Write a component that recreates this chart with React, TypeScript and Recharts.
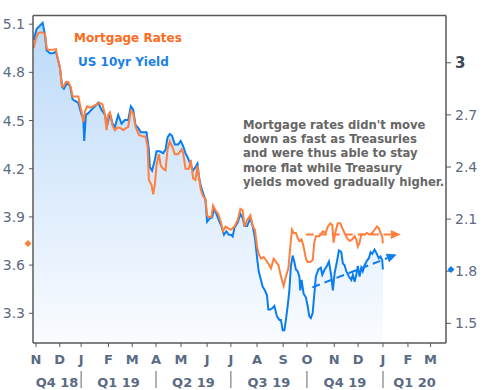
import React from 'react';
import {
  ComposedChart,
  Line,
  Area,
  XAxis,
  YAxis,
  ReferenceLine,
  ReferenceDot,
  Customized,
} from 'recharts';

// x = trading-day index counted from Nov 1 2018
const monthTickDays = [0, 20, 38, 61, 81, 101, 122, 144, 164, 186, 208, 228, 251, 271, 292, 313, 332];
const monthLabels = ['N', 'D', 'J', 'F', 'M', 'A', 'M', 'J', 'J', 'A', 'S', 'O', 'N', 'D', 'J', 'F', 'M'];
const quarterBoundaryDays = [38, 101, 164, 228, 292];
const quarterLabels = ['Q4 18', 'Q1 19', 'Q2 19', 'Q3 19', 'Q4 19', 'Q1 20'];
const xDomain = [-2.5, 345];

const mortgageTicks = [3.3, 3.6, 3.9, 4.2, 4.5, 4.8, 5.1];
const mortgageDomain = [3.115, 5.154];
const yieldTicks = [1.5, 1.8, 2.1, 2.4, 2.7, 3];
const yieldDomain = [1.387, 3.272];

const mortgageDays = [
  -2, 0, 1.9, 4.8, 7.6, 9, 10.3, 13.2, 16.8, 18.7, 20.2, 21.6, 23, 25.2, 27.1, 29.2, 30.8, 32.8, 35.6, 37,
  38.4, 39.8, 41.2, 43.1, 45.4, 48.2, 51, 53.8, 56, 58, 59.4, 60.8, 62.2, 64.4, 66.4, 68.3, 70.6, 73.4, 76.2, 77.6,
  79.8, 81.8, 83.8, 86.6, 90.2, 92.2, 93.9, 95, 97.2, 98.6, 100, 101.4, 103.4, 105, 107, 109, 110.7, 112.6, 114.5, 116.8,
  119.6, 122.4, 123.8, 125.8, 128.6, 130.3, 132.2, 134.2, 135.9, 137, 138.7, 140.6, 142.6, 144, 145.4, 147.6, 149, 151, 153.2, 155.5,
  157.4, 159.4, 161.6, 163.9, 167, 169.7, 172, 174, 175.4, 177.6, 180.4, 182.4, 184.3, 186, 187.4, 189.3, 191.6, 193.5, 195.5, 197.7,
  200, 202, 204, 206.1, 208.4, 210.3, 212.4, 214, 215.4, 216.8, 218.7, 220.2, 221.6, 223.5, 225.2, 227.1, 228.6, 230.8, 232.8, 234.2,
  235.5, 238.4, 241.4, 243.7, 245.6, 247.6, 249.3, 250.4, 252.1, 254, 256, 257.7, 259.7, 261.6, 263.9, 266.1, 268.1, 269.5, 270.8, 272.3,
  273.7, 276.5, 278.4, 280.7, 282.9, 284.9, 286.8, 288.5, 289.9, 291.3, 291.9,
];
const mortgageRates = [
  4.95, 5.01, 5.045, 5.05, 5.04, 4.95, 4.94, 4.94, 4.945, 4.87, 4.83, 4.72, 4.71, 4.74, 4.74, 4.71, 4.65, 4.65, 4.65, 4.6,
  4.555, 4.49, 4.555, 4.59, 4.58, 4.59, 4.6, 4.61, 4.6, 4.535, 4.44, 4.535, 4.55, 4.47, 4.44, 4.455, 4.455, 4.44, 4.455, 4.46,
  4.56, 4.545, 4.46, 4.41, 4.4, 4.4, 4.34, 4.13, 4.1, 4.04, 4.1, 4.22, 4.29, 4.22, 4.2, 4.19, 4.32, 4.37, 4.34, 4.29,
  4.29, 4.32, 4.3, 4.2, 4.2, 4.255, 4.14, 4.13, 4.22, 4.15, 4.07, 4.03, 4.01, 3.91, 3.9, 3.9, 3.97, 3.94, 3.92, 3.87,
  3.81, 3.84, 3.83, 3.82, 3.84, 3.88, 3.95, 3.94, 3.84, 3.88, 3.91, 3.84, 3.82, 3.715, 3.67, 3.64, 3.65, 3.63, 3.61, 3.58,
  3.64, 3.62, 3.6, 3.53, 3.47, 3.53, 3.58, 3.715, 3.82, 3.8, 3.8, 3.77, 3.75, 3.76, 3.715, 3.64, 3.62, 3.62, 3.63, 3.74,
  3.78, 3.78, 3.81, 3.8, 3.84, 3.86, 3.85, 3.74, 3.81, 3.86, 3.86, 3.83, 3.8, 3.77, 3.75, 3.76, 3.78, 3.76, 3.715, 3.74,
  3.79, 3.79, 3.8, 3.79, 3.8, 3.82, 3.84, 3.83, 3.8, 3.78, 3.735,
];

const yieldDays = [
  -2, 0.6, 2.8, 5.6, 7.6, 9, 11.8, 14.5, 16.8, 18.7, 20.2, 22.1, 23.5, 25.8, 28.6, 30.8, 32.8, 35.6, 38.4, 39.8,
  40.6, 42, 44, 46.8, 49.6, 52.4, 55.2, 58, 59.9, 62.2, 64.4, 66.4, 69.2, 72, 74.8, 77.6, 79.8, 81.8, 83.8, 86,
  88.2, 91, 93, 95, 95.8, 97.7, 100, 101.4, 104.2, 107, 109, 110.7, 112.6, 114.5, 116.8, 119.6, 121.8, 123.8, 125.8, 128,
  130.3, 132.2, 134.2, 135.9, 137, 138.7, 140.6, 142.6, 144, 146.2, 148.2, 149.8, 151.8, 153.8, 156, 158.2, 160.2, 162.2, 164.1, 165.5,
  167, 169.7, 172, 174, 175.4, 177.6, 180.4, 182.4, 184.3, 186, 187.4, 189.3, 190.8, 192.7, 194.4, 195.5, 197.2, 199.2, 200.6, 202.8,
  204.8, 206.1, 207.6, 209, 210.3, 211.8, 213.2, 214.5, 216, 217.4, 218.7, 220.2, 221.6, 222.4, 223.5, 225.2, 227.1, 228.6, 230, 231.3,
  232.8, 234.2, 235.5, 237.6, 239.7, 240.9, 242.9, 244.8, 246.5, 248.5, 249.8, 251.3, 253.2, 254.9, 256.9, 258.2, 259.7, 261.1, 263.3, 265.3,
  266.6, 268.1, 269.5, 270.8, 272.3, 273.7, 275, 276.5, 278.4, 280.1, 281.5, 282.9, 284.9, 286.8, 288.5, 289.9, 291.3, 291.9,
];
const yieldValues = [
  3.13, 3.195, 3.21, 3.23, 3.16, 3.07, 3.055, 3.055, 3.065, 3.015, 2.97, 2.86, 2.85, 2.88, 2.87, 2.79, 2.78, 2.77, 2.7, 2.68,
  2.55, 2.7, 2.71, 2.73, 2.75, 2.77, 2.73, 2.7, 2.64, 2.71, 2.65, 2.63, 2.7, 2.65, 2.67, 2.67, 2.75, 2.73, 2.64, 2.625,
  2.6, 2.6, 2.6, 2.5, 2.4, 2.38, 2.44, 2.49, 2.49, 2.48, 2.5, 2.57, 2.59, 2.58, 2.53, 2.53, 2.55, 2.52, 2.48, 2.45,
  2.41, 2.38, 2.4, 2.42, 2.35, 2.29, 2.25, 2.21, 2.085, 2.105, 2.11, 2.16, 2.13, 2.095, 2.06, 2.01, 2.03, 2.01, 2.01, 2.0,
  2.05, 2.08, 2.13, 2.105, 2.06, 2.06, 2.105, 2.06, 1.99, 1.88, 1.8, 1.75, 1.71, 1.69, 1.66, 1.58, 1.58, 1.59, 1.6, 1.54,
  1.52, 1.52, 1.46, 1.46, 1.52, 1.6, 1.69, 1.83, 1.89, 1.855, 1.81, 1.8, 1.77, 1.69, 1.75, 1.67, 1.65, 1.6, 1.54, 1.53,
  1.56, 1.67, 1.77, 1.81, 1.82, 1.78, 1.81, 1.83, 1.855, 1.77, 1.69, 1.79, 1.855, 1.92, 1.91, 1.845, 1.835, 1.8, 1.77, 1.75,
  1.78, 1.74, 1.78, 1.83, 1.77, 1.82, 1.8, 1.835, 1.86, 1.875, 1.91, 1.9, 1.925, 1.9, 1.875, 1.885, 1.865, 1.81,
];

// trend arrows: [day, value]
const mortgageArrow = [[227, 3.79], [307, 3.79]];
const yieldArrow = [[232.5, 1.707], [303.5, 1.897]];

const annotationLines = [
  "Mortgage rates didn't move",
  'down as fast as Treasuries',
  'and were thus able to stay',
  'more flat while Treasury',
  'yields moved gradually higher.',
];

const ORANGE = '#FF7F3C';
const BLUE = '#0A7DF0';
const AXIS = '#595959';
const TICK_TEXT = '#5b6b84';
const FONT = 'DejaVu Sans';

const mortgageData = mortgageDays.map((d, i) => ({ d, v: mortgageRates[i] }));
const yieldData = yieldDays.map((d, i) => ({ d, v: yieldValues[i] }));

const quarterEdges = [xDomain[0], ...quarterBoundaryDays, xDomain[1]];
const quarterMids = quarterLabels.map((_, i) => (quarterEdges[i] + quarterEdges[i + 1]) / 2);
const quarterTicks = [...quarterBoundaryDays, ...quarterMids].sort((a, b) => a - b);

const QuarterTick = (props: any) => {
  const { x, y, payload } = props;
  const v = payload.value;
  if (quarterBoundaryDays.indexOf(v) >= 0) {
    return <line x1={x} x2={x} y1={y + 6} y2={y + 23} stroke="#666" strokeWidth={1} />;
  }
  const qi = quarterMids.indexOf(v);
  return (
    <text x={x} y={y + 22} textAnchor="middle" fill={TICK_TEXT} fontSize={13} fontWeight="bold" fontFamily={FONT}>
      {quarterLabels[qi]}
    </text>
  );
};

const RightTick = (props: any) => {
  const { x, y, payload } = props;
  const v = payload.value;
  const big = v === 3;
  return (
    <text
      x={x}
      y={y}
      dy="0.36em"
      textAnchor="start"
      fill={big ? '#3d4654' : TICK_TEXT}
      fontSize={big ? 15 : 14}
      fontWeight={big ? 'bold' : 'normal'}
      fontFamily={FONT}
    >
      {big ? '3' : v.toFixed(1)}
    </text>
  );
};

const makeArrowShape = (color: string) => (props: any) => {
  const { x1, y1, x2, y2 } = props;
  if ([x1, y1, x2, y2].some((n) => n == null || isNaN(n))) return <g />;
  const ang = Math.atan2(y2 - y1, x2 - x1);
  const len = 10;
  const half = 4.5;
  const bx = x2 - len * Math.cos(ang);
  const by = y2 - len * Math.sin(ang);
  const px = -Math.sin(ang) * half;
  const py = Math.cos(ang) * half;
  return (
    <g>
      <line x1={x1} y1={y1} x2={bx} y2={by} stroke={color} strokeWidth={2} strokeDasharray="8 5" />
      <polygon points={`${x2},${y2} ${bx + px},${by + py} ${bx - px},${by - py}`} fill={color} />
    </g>
  );
};

const makeDiamond = (color: string, dx: number) => (props: any) => {
  const { cx, cy } = props;
  if (cx == null || cy == null) return <g />;
  const c = cx + dx;
  const r = 3.5;
  return <polygon points={`${c},${cy - r} ${c + r},${cy} ${c},${cy + r} ${c - r},${cy}`} fill={color} />;
};

const Texts = () => (
  <g>
    <text x={74} y={42} fill="#FF6A1C" fontSize={12} fontWeight="bold" fontFamily={FONT}>
      Mortgage Rates
    </text>
    <text x={78} y={66} fill="#1A7FE8" fontSize={12} fontWeight="bold" fontFamily={FONT}>
      US 10yr Yield
    </text>
    {annotationLines.map((t, i) => (
      <text key={i} x={243} y={129 + i * 14.2} fill="#666666" fontSize={11.6} fontWeight="bold" fontFamily={FONT}>
        {t}
      </text>
    ))}
  </g>
);

export default function App() {
  const lastMortgage = mortgageRates[mortgageRates.length - 1];
  const lastYield = yieldValues[yieldValues.length - 1];
  return (
    <div style={{ position: 'absolute', left: 0, top: 0, width: 484, height: 390, background: '#fff' }}>
      <ComposedChart width={484} height={390} margin={{ top: 15.5, right: 0, bottom: 0, left: 0 }}>
        <defs>
          <linearGradient id="yieldFill" x1="0" y1="0" x2="0" y2="1">
            <stop offset="0%" stopColor="#bcdaf9" />
            <stop offset="100%" stopColor="#fafcff" />
          </linearGradient>
        </defs>
        <XAxis
          xAxisId="m"
          type="number"
          dataKey="d"
          domain={xDomain}
          allowDataOverflow
          ticks={monthTickDays}
          interval={0}
          height={22}
          tickSize={4}
          tickMargin={8}
          stroke={AXIS}
          axisLine={{ stroke: AXIS, strokeWidth: 1.5 }}
          tickLine={{ stroke: AXIS }}
          tickFormatter={(v: number) => monthLabels[monthTickDays.indexOf(v)] ?? ''}
          tick={{ fill: TICK_TEXT, fontSize: 13, fontWeight: 'bold', fontFamily: FONT }}
        />
        <XAxis
          xAxisId="q"
          type="number"
          dataKey="d"
          domain={xDomain}
          allowDataOverflow
          ticks={quarterTicks}
          interval={0}
          height={25}
          tickSize={0}
          tickMargin={0}
          axisLine={false}
          tickLine={false}
          tick={<QuarterTick />}
        />
        <YAxis
          yAxisId="l"
          orientation="left"
          type="number"
          domain={mortgageDomain}
          allowDataOverflow
          ticks={mortgageTicks}
          interval={0}
          width={33}
          tickSize={4}
          tickMargin={4}
          axisLine={{ stroke: AXIS, strokeWidth: 1.5 }}
          tickLine={{ stroke: AXIS }}
          tickFormatter={(v: number) => v.toFixed(1)}
          tick={{ fill: TICK_TEXT, fontSize: 14, fontFamily: FONT }}
        />
        <YAxis
          yAxisId="r"
          orientation="right"
          type="number"
          domain={yieldDomain}
          allowDataOverflow
          ticks={yieldTicks}
          interval={0}
          width={38}
          tickSize={5}
          tickMargin={4}
          axisLine={{ stroke: AXIS, strokeWidth: 1.5 }}
          tickLine={{ stroke: AXIS }}
          tick={<RightTick />}
        />
        <ReferenceLine xAxisId="m" yAxisId="l" y={mortgageDomain[1]} stroke={AXIS} strokeWidth={1.5} ifOverflow="visible" />
        <Area
          xAxisId="m"
          yAxisId="r"
          data={yieldData}
          dataKey="v"
          type="linear"
          stroke="none"
          fill="url(#yieldFill)"
          fillOpacity={1}
          isAnimationActive={false}
        />
        <Line
          xAxisId="m"
          yAxisId="r"
          data={yieldData}
          dataKey="v"
          type="linear"
          stroke={BLUE}
          strokeWidth={2}
          dot={false}
          isAnimationActive={false}
        />
        <Line
          xAxisId="m"
          yAxisId="l"
          data={mortgageData}
          dataKey="v"
          type="linear"
          stroke={ORANGE}
          strokeWidth={2}
          dot={false}
          isAnimationActive={false}
        />
        <ReferenceLine
          xAxisId="m"
          yAxisId="l"
          segment={[
            { x: mortgageArrow[0][0], y: mortgageArrow[0][1] },
            { x: mortgageArrow[1][0], y: mortgageArrow[1][1] },
          ]}
          ifOverflow="visible"
          shape={makeArrowShape(ORANGE)}
        />
        <ReferenceLine
          xAxisId="m"
          yAxisId="r"
          segment={[
            { x: yieldArrow[0][0], y: yieldArrow[0][1] },
            { x: yieldArrow[1][0], y: yieldArrow[1][1] },
          ]}
          ifOverflow="visible"
          shape={makeArrowShape(BLUE)}
        />
        <ReferenceDot
          xAxisId="m"
          yAxisId="l"
          x={xDomain[0]}
          y={lastMortgage}
          ifOverflow="visible"
          shape={makeDiamond(ORANGE, -5)}
        />
        <ReferenceDot
          xAxisId="m"
          yAxisId="r"
          x={xDomain[1]}
          y={lastYield}
          ifOverflow="visible"
          shape={makeDiamond(BLUE, 5)}
        />
        <Customized component={Texts} />
      </ComposedChart>
    </div>
  );
}
